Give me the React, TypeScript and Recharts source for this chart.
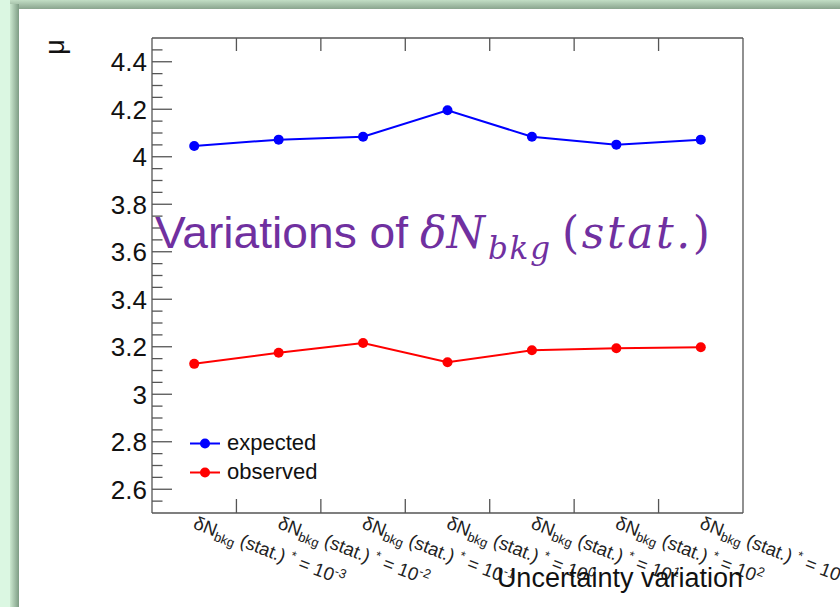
import { LineChart, Line, XAxis, YAxis, Legend } from "recharts";

// category labels: exponent of the uncertainty scale factor
const exponents = ["-3", "-2", "-1", "0", "1", "2", "3"];
const expected = [4.045, 4.072, 4.084, 4.196, 4.084, 4.051, 4.072];
const observed = [3.128, 3.175, 3.216, 3.135, 3.185, 3.194, 3.198];

const yMajor = [2.6, 2.8, 3, 3.2, 3.4, 3.6, 3.8, 4, 4.2, 4.4];
const yTicks = [
  2.55, 2.6, 2.65, 2.7, 2.75, 2.8, 2.85, 2.9, 2.95, 3, 3.05, 3.1, 3.15, 3.2,
  3.25, 3.3, 3.35, 3.4, 3.45, 3.5, 3.55, 3.6, 3.65, 3.7, 3.75, 3.8, 3.85, 3.9,
  3.95, 4, 4.05, 4.1, 4.15, 4.2, 4.25, 4.3, 4.35, 4.4, 4.45,
];
const xBottomTicks = [0.5, 1, 1.5, 2, 2.5, 3, 3.5, 4, 4.5, 5, 5.5, 6, 6.5];
const xTopTicks = [1, 2, 3, 4, 5, 6];

const data = exponents.map((e, i) => ({
  pos: i + 0.5,
  exp: e,
  expected: expected[i],
  observed: observed[i],
}));

const AXIS = "#555";
const SANS = "'Liberation Sans', Arial, sans-serif";
const MATH = "'DejaVu Serif', serif";
const isMajor = (v: number) => yMajor.some((m) => Math.abs(m - v) < 1e-6);

const LeftTick = (props: any) => {
  const { x, y, payload } = props;
  const major = isMajor(payload.value);
  return (
    <g>
      <line x1={x} y1={y} x2={x + (major ? 20 : 10.5)} y2={y} stroke={AXIS} strokeWidth={1.3} />
      {major && (
        <text x={x - 5} y={y} dy="0.36em" textAnchor="end" fontSize={26} fontFamily={SANS} fill="#111">
          {String(payload.value)}
        </text>
      )}
    </g>
  );
};

const RightTick = (props: any) => {
  const { x, y, payload } = props;
  const major = isMajor(payload.value);
  return <line x1={x} y1={y} x2={x - (major ? 20 : 10.5)} y2={y} stroke={AXIS} strokeWidth={1.3} />;
};

const TopTick = (props: any) => {
  const { x, y } = props;
  return <line x1={x} y1={y} x2={x} y2={y + 13} stroke={AXIS} strokeWidth={1.3} />;
};

const BottomTick = (props: any) => {
  const { x, y, payload } = props;
  const v = payload.value;
  if (Number.isInteger(v)) {
    return <line x1={x} y1={y} x2={x} y2={y - 14} stroke={AXIS} strokeWidth={1.3} />;
  }
  const exp = exponents[Math.floor(v)];
  return (
    <text
      transform={`translate(${x - 2},${y + 15}) rotate(21)`}
      fontSize={18.5}
      fontFamily={SANS}
      fill="#222"
    >
      δN
      <tspan fontSize={13} dy={4}>bkg</tspan>
      <tspan dy={-4}> (stat.) </tspan>
      <tspan fontSize={13} dy={-6}>*</tspan>
      <tspan dy={6}> = 10</tspan>
      <tspan fontSize={13} dy={-7}>{exp}</tspan>
    </text>
  );
};

const LegendContent = (props: any) => {
  const { payload } = props;
  return (
    <div style={{ fontFamily: SANS, fontSize: 22, color: "#111" }}>
      {(payload || []).map((p: any) => (
        <div key={p.value} style={{ display: "flex", alignItems: "center", height: 29 }}>
          <svg width={39} height={29}>
            <line x1={2} y1={14.5} x2={32} y2={14.5} stroke={p.color} strokeWidth={2} />
            <circle cx={17} cy={14.5} r={5} fill={p.color} />
          </svg>
          <span>{p.value}</span>
        </div>
      ))}
    </div>
  );
};

export default function App() {
  return (
    <div
      style={{
        position: "absolute",
        left: 0,
        top: 0,
        width: 840,
        height: 607,
        overflow: "hidden",
        background: "#dbf7e2",
      }}
    >
      {/* slide frame shadow */}
      <div
        style={{
          position: "absolute",
          left: 10,
          top: 0,
          right: 0,
          height: 9,
          background: "linear-gradient(to bottom, #c2dec5, #8aa48e)",
        }}
      />
      <div
        style={{
          position: "absolute",
          left: 10,
          top: 4,
          width: 9,
          bottom: 0,
          background: "linear-gradient(to right, #cbe8cf, #7e9c84)",
        }}
      />
      <div style={{ position: "absolute", left: 19, top: 9, right: 0, bottom: 0, background: "#fff" }} />

      <div style={{ position: "absolute", left: 0, top: 0 }}>
        <LineChart width={840} height={607} data={data} margin={{ top: 37, right: 96, bottom: 0, left: 92 }}>
          <XAxis
            xAxisId="b"
            dataKey="pos"
            type="number"
            domain={[0, 7]}
            ticks={xBottomTicks}
            interval={0}
            height={94}
            tickSize={0}
            tickMargin={0}
            tickLine={false}
            axisLine={{ stroke: AXIS, strokeWidth: 1.3 }}
            tick={<BottomTick />}
          />
          <XAxis
            xAxisId="t"
            orientation="top"
            dataKey="pos"
            type="number"
            domain={[0, 7]}
            ticks={xTopTicks}
            interval={0}
            height={1}
            tickSize={0}
            tickMargin={0}
            tickLine={false}
            axisLine={{ stroke: AXIS, strokeWidth: 1.3 }}
            tick={<TopTick />}
          />
          <YAxis
            yAxisId="l"
            type="number"
            domain={[2.5, 4.5]}
            ticks={yTicks}
            interval={0}
            width={60}
            tickSize={0}
            tickMargin={0}
            tickLine={false}
            axisLine={{ stroke: AXIS, strokeWidth: 1.3 }}
            tick={<LeftTick />}
          />
          <YAxis
            yAxisId="r"
            orientation="right"
            type="number"
            domain={[2.5, 4.5]}
            ticks={yTicks}
            interval={0}
            width={1}
            tickSize={0}
            tickMargin={0}
            tickLine={false}
            axisLine={{ stroke: AXIS, strokeWidth: 1.3 }}
            tick={<RightTick />}
          />
          <Line
            xAxisId="b"
            yAxisId="l"
            type="linear"
            dataKey="expected"
            stroke="#0000ff"
            strokeWidth={2}
            dot={{ r: 5, fill: "#0000ff", stroke: "#0000ff", strokeWidth: 0 }}
            isAnimationActive={false}
          />
          <Line
            xAxisId="b"
            yAxisId="l"
            type="linear"
            dataKey="observed"
            stroke="#ff0000"
            strokeWidth={2}
            dot={{ r: 5, fill: "#ff0000", stroke: "#ff0000", strokeWidth: 0 }}
            isAnimationActive={false}
          />
          <Legend
            layout="vertical"
            align="center"
            verticalAlign="middle"
            content={<LegendContent />}
            wrapperStyle={{ left: 188, top: 428.5, width: 200 }}
          />
        </LineChart>
      </div>

      {/* titles */}
      <svg width={840} height={607} style={{ position: "absolute", left: 0, top: 0, pointerEvents: "none" }}>
        <text transform="translate(64,47) rotate(-90)" textAnchor="middle" fontSize={27} fontFamily={SANS} fill="#111">
          μ
        </text>
        <text x={743} y={587} textAnchor="end" fontSize={27} fontFamily={SANS} fill="#111">
          Uncertainty variation
        </text>
        <text x={155} y={248} fontSize={45} fontFamily={SANS} fill="#7030a0" textLength={253} lengthAdjust="spacingAndGlyphs">
          Variations of
        </text>
        <text x={420} y={248} fontSize={44} fontFamily={MATH} fontStyle="italic" fill="#7030a0">
          δN
        </text>
        <text x={488} y={259} fontSize={31} fontFamily={MATH} fontStyle="italic" fill="#7030a0" textLength={62} lengthAdjust="spacing">
          bkg
        </text>
        <text x={562} y={248} fontSize={44} fontFamily={MATH} fill="#7030a0" textLength={148} lengthAdjust="spacing">
          (<tspan fontStyle="italic">stat.</tspan>)
        </text>
      </svg>
    </div>
  );
}
